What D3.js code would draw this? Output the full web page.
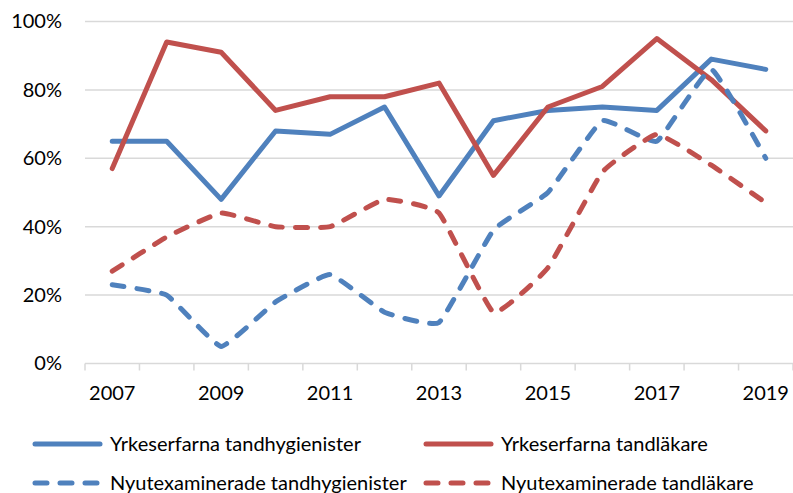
<!DOCTYPE html>
<html>
<head>
<meta charset="utf-8">
<script src="https://cdn.jsdelivr.net/npm/d3@7"></script>
<style>
  html, body { margin: 0; padding: 0; background: #fff; }
  svg { display: block; font-family: Lato, "Open Sans", sans-serif; }
</style>
</head>
<body>
<svg id="chart" width="793" height="493"></svg>
<script>
// Survey share per year (percent)
const years = [2007, 2008, 2009, 2010, 2011, 2012, 2013, 2014, 2015, 2016, 2017, 2018, 2019];
const yrkeserfarnaHygienister = [65, 65, 48, 68, 67, 75, 49, 71, 74, 75, 74, 89, 86];
const yrkeserfarnaLakare      = [57, 94, 91, 74, 78, 78, 82, 55, 75, 81, 95, 83, 68];
const nyutexHygienister       = [23, 20, 5, 18, 26, 15, 12, 39, 50, 71, 65, 86, 60];
const nyutexLakare            = [27, 37, 44, 40, 40, 48, 44, 15, 28, 56, 67, 58, 47];
const yTicks = [0, 20, 40, 60, 80, 100];
const xLabelYears = [2007, 2009, 2011, 2013, 2015, 2017, 2019];

const series = [
  { name: "Yrkeserfarna tandhygienister",   values: yrkeserfarnaHygienister, color: "#4F81BD", dashed: false },
  { name: "Yrkeserfarna tandläkare",        values: yrkeserfarnaLakare,      color: "#C0504D", dashed: false },
  { name: "Nyutexaminerade tandhygienister", values: nyutexHygienister,      color: "#4F81BD", dashed: true },
  { name: "Nyutexaminerade tandläkare",     values: nyutexLakare,            color: "#C0504D", dashed: true }
];

const svg = d3.select("#chart");
const plotLeft = 85, plotRight = 793, plotTop = 21.5, plotBottom = 363.5;

const x = d3.scaleBand().domain(years).range([plotLeft, plotRight]).padding(0);
const y = d3.scaleLinear().domain([0, 100]).range([plotBottom, plotTop]);
const cx = d => x(d) + x.bandwidth() / 2;

// horizontal gridlines
svg.append("g")
  .selectAll("line")
  .data(yTicks)
  .join("line")
  .attr("x1", plotLeft).attr("x2", plotRight)
  .attr("y1", d => y(d)).attr("y2", d => y(d))
  .attr("stroke", "#D9D9D9").attr("stroke-width", 1.5);

// y-axis labels
const yAxis = d3.axisLeft(y).tickValues(yTicks).tickSize(0).tickPadding(0)
  .tickFormat(d => d + "%");
svg.append("g")
  .attr("transform", `translate(62,0)`)
  .call(yAxis)
  .call(g => g.select(".domain").remove())
  .selectAll("text")
  .attr("font-family", "Lato, sans-serif")
  .attr("font-size", 20)
  .attr("fill", "#000");

// category boundary ticks below the baseline
const bounds = years.map(d => x(d)).concat([plotRight]);
svg.append("g")
  .selectAll("line")
  .data(bounds)
  .join("line")
  .attr("x1", d => d).attr("x2", d => d)
  .attr("y1", plotBottom).attr("y2", plotBottom + 7)
  .attr("stroke", "#D9D9D9").attr("stroke-width", 1.5);

// x-axis labels, every second year
const xAxis = d3.axisBottom(x).tickValues(xLabelYears).tickSize(0).tickPadding(0);
svg.append("g")
  .attr("transform", `translate(0,${plotBottom + 22})`)
  .call(xAxis)
  .call(g => g.select(".domain").remove())
  .selectAll("text")
  .attr("font-family", "Lato, sans-serif")
  .attr("font-size", 20)
  .attr("fill", "#000");

// data lines: solid series straight, dashed series lightly smoothed
const straight = d3.line().x((v, i) => cx(years[i])).y(v => y(v));
const smooth = d3.line().x((v, i) => cx(years[i])).y(v => y(v)).curve(d3.curveCardinal.tension(0.65));

svg.append("g")
  .selectAll("path")
  .data(series)
  .join("path")
  .attr("d", s => (s.dashed ? smooth : straight)(s.values))
  .attr("fill", "none")
  .attr("stroke", s => s.color)
  .attr("stroke-width", 5)
  .attr("stroke-linecap", "round")
  .attr("stroke-linejoin", "round")
  .attr("stroke-dasharray", s => s.dashed ? "12,13" : null);

// legend
const legendPos = [
  { lx: 33, ly: 444 }, { lx: 424, ly: 444 },
  { lx: 33, ly: 483 }, { lx: 424, ly: 483 }
];
const legend = svg.append("g")
  .selectAll("g")
  .data(series)
  .join("g")
  .attr("transform", (s, i) => `translate(${legendPos[i].lx},${legendPos[i].ly})`);
legend.append("line")
  .attr("x1", 2).attr("x2", 67).attr("y1", 0).attr("y2", 0)
  .attr("stroke", s => s.color)
  .attr("stroke-width", 5)
  .attr("stroke-linecap", "round")
  .attr("stroke-dasharray", s => s.dashed ? "12,13" : null);
legend.append("text")
  .attr("x", 77).attr("y", 0).attr("dy", "0.35em")
  .attr("font-size", 20)
  .attr("fill", "#000")
  .text(s => s.name);
</script>
</body>
</html>
